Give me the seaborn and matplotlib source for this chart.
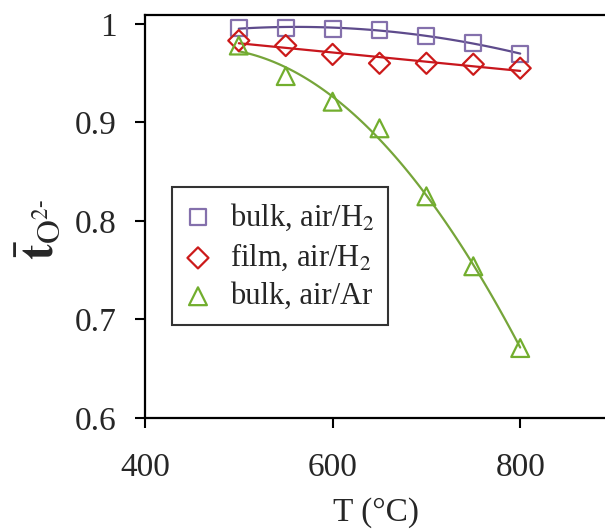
import numpy as np
import pandas as pd
import matplotlib
matplotlib.use("Agg")
import matplotlib.pyplot as plt
import seaborn as sns

# ---- data ----
temps = [500, 550, 600, 650, 700, 750, 800]
bulk_h2 = [0.996, 0.996, 0.995, 0.994, 0.988, 0.981, 0.969]
film_h2 = [0.983, 0.978, 0.969, 0.960, 0.960, 0.959, 0.955]
bulk_ar = [0.978, 0.947, 0.921, 0.894, 0.825, 0.754, 0.671]
series_labels = ["bulk, air/H$_2$", "film, air/H$_2$", "bulk, air/Ar"]
x_ticks = [400, 600, 800]
y_ticks = [0.6, 0.7, 0.8, 0.9, 1.0]
y_tick_labels = ["0.6", "0.7", "0.8", "0.9", "1"]

sns.set_style("ticks")
plt.rcParams["font.family"] = ["Liberation Serif", "DejaVu Serif"]
plt.rcParams["mathtext.fontset"] = "stix"

fig = plt.figure(figsize=(6.05, 5.32), dpi=100)
ax = fig.add_axes([145 / 605, 1 - 418 / 532, 469 / 605, 403 / 532])

df = pd.DataFrame({"T": temps, "bulk_h2": bulk_h2, "film_h2": film_h2, "bulk_ar": bulk_ar})

styles = [
    ("bulk_h2", "#5E4B8C", "#8470AC", "s", 130, 2),
    ("film_h2", "#C8161D", "#CC1A1A", "D", 115, 1),
    ("bulk_ar", "#76A53A", "#72AE2E", "^", 165, 2),
]

for (col, lcol, mcol, mk, sz, order), lab in zip(styles, series_labels):
    sns.regplot(data=df, x="T", y=col, order=order, ci=None, scatter=False, ax=ax,
                line_kws=dict(color=lcol, lw=1.6, zorder=2))
for (col, lcol, mcol, mk, sz, order), lab in zip(styles, series_labels):
    sns.scatterplot(data=df, x="T", y=col, marker=mk, s=sz, fc="none", ec=mcol,
                    linewidth=1.6, ax=ax, label=lab, zorder=3)

ax.set_xlim(400, 900)
ax.set_ylim(0.6, 1.009)
ax.set_xticks(x_ticks)
ax.set_xticklabels([str(v) for v in x_ticks])
ax.set_yticks(y_ticks)
ax.set_yticklabels(y_tick_labels)
ax.tick_params(axis="both", direction="out", length=7.5, width=1.5, labelsize=24, color="black")
ax.tick_params(axis="x", pad=17)
ax.tick_params(axis="y", pad=13)
for sp in ax.spines.values():
    sp.set_linewidth(1.6)
    sp.set_color("black")
    sp.set_visible(True)

ax.set_xlabel("T (°C)", fontsize=24)
ax.xaxis.set_label_coords(0.4925, -0.196)
ax.set_ylabel("")
fig.text(40 / 605, 1 - 229 / 532, r"$\bar{\mathbf{t}}_{\mathrm{O}^{2\text{-}}}$",
         rotation=90, ha="center", va="center", fontsize=34)

leg = ax.legend(loc="lower left", bbox_to_anchor=(27 / 469, 93 / 403), borderaxespad=0,
                fontsize=22, frameon=True, fancybox=False, labelspacing=0.3,
                handletextpad=0.64, borderpad=0.45, handlelength=0.8)
leg.get_frame().set_edgecolor("black")
leg.get_frame().set_linewidth(1.5)

fig.savefig("out.png", dpi=100)
